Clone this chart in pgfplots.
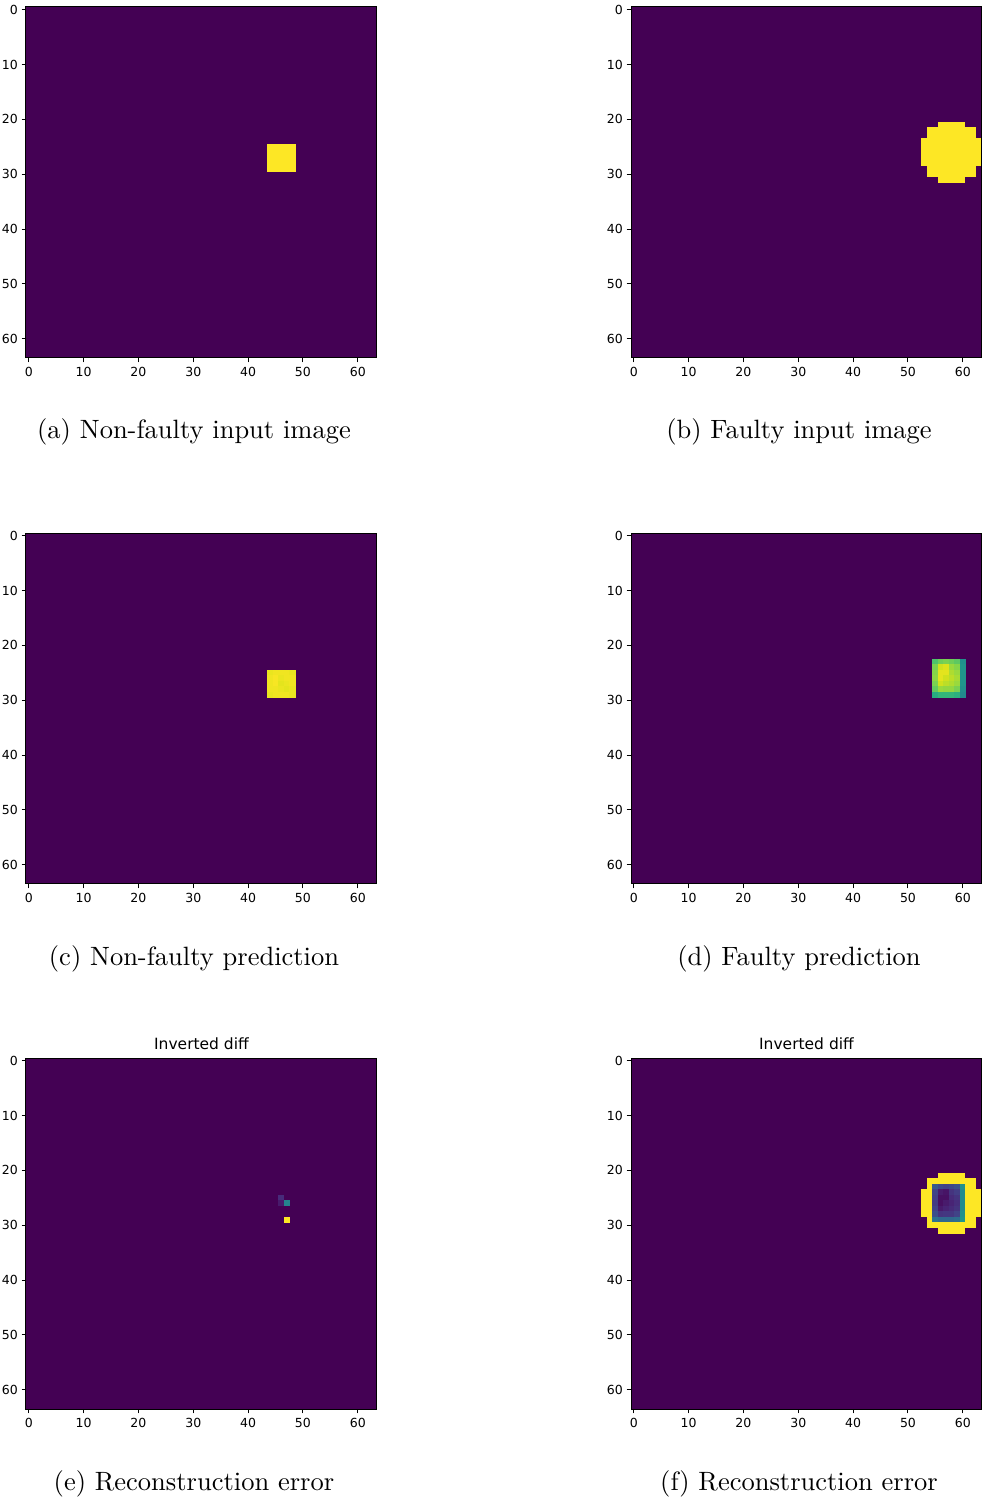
\documentclass[border=0pt]{standalone}
\usepackage{fontspec}
\usepackage{pgfplots}
\pgfplotsset{compat=1.18}
\newfontfamily\dejavu{DejaVu Sans}
\pgfplotsset{
  img/.style={
    scale only axis, width=140.4pt, height=140.4pt,
    xmin=-0.5, xmax=63.5, ymin=-0.5, ymax=63.5, y dir=reverse,
    axis on top, colormap/viridis, point meta min=0, point meta max=1,
    xtick={0,10,...,60}, ytick={0,10,...,60},
    tick align=outside, xtick pos=bottom, ytick pos=left,
    major tick length=1.76pt,
    tick style={black, line width=0.4pt},
    axis line style={line width=0.4pt},
    tick label style={font=\dejavu\fontsize{5}{6}\selectfont},
    xticklabel style={yshift=1.6pt},
    yticklabel style={xshift=2pt},
    /pgf/number format/assume math mode=true,
    anchor=north west,
    title style={font=\dejavu\fontsize{6.2}{7}\selectfont, anchor=base, yshift=-2.6pt, inner sep=0pt},
  },
  bg/.style={matrix plot*, mesh/cols=2, point meta=explicit},
  px/.style={matrix plot, line width=0.15pt, point meta=explicit},
}
\newcommand\bgplot{\addplot[bg] coordinates {(15.5,15.5) [0] (47.5,15.5) [0] (15.5,47.5) [0] (47.5,47.5) [0]};}
\newcommand\subcap[3]{\node[anchor=base, font=\fontsize{10.6}{12}\selectfont] at (#1,#2) {#3};}
\begin{document}
\begin{tikzpicture}
% (a)
\begin{axis}[img, at={(10.4pt,-2.8pt)}]
\bgplot
\addplot[px, mesh/cols=5] table[meta=c, row sep=\\] {
x y c\\
44 25 1\\ 45 25 1\\ 46 25 1\\ 47 25 1\\ 48 25 1\\
44 26 1\\ 45 26 1\\ 46 26 1\\ 47 26 1\\ 48 26 1\\
44 27 1\\ 45 27 1\\ 46 27 1\\ 47 27 1\\ 48 27 1\\
44 28 1\\ 45 28 1\\ 46 28 1\\ 47 28 1\\ 48 28 1\\
44 29 1\\ 45 29 1\\ 46 29 1\\ 47 29 1\\ 48 29 1\\
};
\end{axis}
% (b)
\begin{axis}[img, at={(252.4pt,-2.8pt)}]
\bgplot
\addplot[px, mesh/cols=11] table[meta=c, row sep=\\] {
x y c\\
53 21 0\\ 54 21 0\\ 55 21 0\\ 56 21 1\\ 57 21 1\\ 58 21 1\\ 59 21 1\\ 60 21 1\\ 61 21 0\\ 62 21 0\\ 63 21 0\\
53 22 0\\ 54 22 1\\ 55 22 1\\ 56 22 1\\ 57 22 1\\ 58 22 1\\ 59 22 1\\ 60 22 1\\ 61 22 1\\ 62 22 1\\ 63 22 0\\
53 23 0\\ 54 23 1\\ 55 23 1\\ 56 23 1\\ 57 23 1\\ 58 23 1\\ 59 23 1\\ 60 23 1\\ 61 23 1\\ 62 23 1\\ 63 23 0\\
53 24 1\\ 54 24 1\\ 55 24 1\\ 56 24 1\\ 57 24 1\\ 58 24 1\\ 59 24 1\\ 60 24 1\\ 61 24 1\\ 62 24 1\\ 63 24 1\\
53 25 1\\ 54 25 1\\ 55 25 1\\ 56 25 1\\ 57 25 1\\ 58 25 1\\ 59 25 1\\ 60 25 1\\ 61 25 1\\ 62 25 1\\ 63 25 1\\
53 26 1\\ 54 26 1\\ 55 26 1\\ 56 26 1\\ 57 26 1\\ 58 26 1\\ 59 26 1\\ 60 26 1\\ 61 26 1\\ 62 26 1\\ 63 26 1\\
53 27 1\\ 54 27 1\\ 55 27 1\\ 56 27 1\\ 57 27 1\\ 58 27 1\\ 59 27 1\\ 60 27 1\\ 61 27 1\\ 62 27 1\\ 63 27 1\\
53 28 1\\ 54 28 1\\ 55 28 1\\ 56 28 1\\ 57 28 1\\ 58 28 1\\ 59 28 1\\ 60 28 1\\ 61 28 1\\ 62 28 1\\ 63 28 1\\
53 29 0\\ 54 29 1\\ 55 29 1\\ 56 29 1\\ 57 29 1\\ 58 29 1\\ 59 29 1\\ 60 29 1\\ 61 29 1\\ 62 29 1\\ 63 29 0\\
53 30 0\\ 54 30 1\\ 55 30 1\\ 56 30 1\\ 57 30 1\\ 58 30 1\\ 59 30 1\\ 60 30 1\\ 61 30 1\\ 62 30 1\\ 63 30 0\\
53 31 0\\ 54 31 0\\ 55 31 0\\ 56 31 1\\ 57 31 1\\ 58 31 1\\ 59 31 1\\ 60 31 1\\ 61 31 0\\ 62 31 0\\ 63 31 0\\
};
\end{axis}
% (c)
\begin{axis}[img, at={(10.4pt,-213.2pt)}]
\bgplot
\addplot[px, mesh/cols=5] table[meta=c, row sep=\\] {
x y c\\
44 25 0.97\\ 45 25 0.98\\ 46 25 0.98\\ 47 25 0.98\\ 48 25 0.97\\
44 26 0.98\\ 45 26 0.99\\ 46 26 0.97\\ 47 26 0.98\\ 48 26 0.98\\
44 27 0.98\\ 45 27 0.99\\ 46 27 0.96\\ 47 27 0.97\\ 48 27 0.98\\
44 28 0.98\\ 45 28 0.98\\ 46 28 0.97\\ 47 28 0.96\\ 48 28 0.97\\
44 29 0.97\\ 45 29 0.98\\ 46 29 0.98\\ 47 29 0.98\\ 48 29 0.97\\
};
\end{axis}
% (d)
\begin{axis}[img, at={(252.4pt,-213.2pt)}]
\bgplot
\addplot[px, mesh/cols=6] table[meta=c, row sep=\\] {
x y c\\
55 23 0.72\\ 56 23 0.78\\ 57 23 0.80\\ 58 23 0.78\\ 59 23 0.75\\ 60 23 0.50\\
55 24 0.80\\ 56 24 0.93\\ 57 24 0.95\\ 58 24 0.85\\ 59 24 0.82\\ 60 24 0.52\\
55 25 0.82\\ 56 25 0.96\\ 57 25 0.96\\ 58 25 0.88\\ 59 25 0.85\\ 60 25 0.52\\
55 26 0.83\\ 56 26 0.96\\ 57 26 0.93\\ 58 26 0.90\\ 59 26 0.87\\ 60 26 0.52\\
55 27 0.80\\ 56 27 0.93\\ 57 27 0.90\\ 58 27 0.88\\ 59 27 0.85\\ 60 27 0.52\\
55 28 0.76\\ 56 28 0.85\\ 57 28 0.84\\ 58 28 0.84\\ 59 28 0.80\\ 60 28 0.50\\
55 29 0.62\\ 56 29 0.66\\ 57 29 0.66\\ 58 29 0.66\\ 59 29 0.64\\ 60 29 0.48\\
};
\end{axis}
% (e)
\begin{axis}[img, at={(10.4pt,-423.2pt)}, title={Inverted diff}]
\bgplot
\addplot[px, mesh/cols=2] table[meta=c, row sep=\\] {
x y c\\
46 25 0.12\\ 47 25 0\\
46 26 0.07\\ 47 26 0.45\\
46 27 0\\ 47 27 0\\
46 28 0\\ 47 28 0\\
46 29 0\\ 47 29 1\\
};
\end{axis}
% (f)
\begin{axis}[img, at={(252.4pt,-423.2pt)}, title={Inverted diff}]
\bgplot
\addplot[px, mesh/cols=11] table[meta=c, row sep=\\] {
x y c\\
53 21 0\\ 54 21 0\\ 55 21 0\\ 56 21 1\\ 57 21 1\\ 58 21 1\\ 59 21 1\\ 60 21 1\\ 61 21 0\\ 62 21 0\\ 63 21 0\\
53 22 0\\ 54 22 1\\ 55 22 1\\ 56 22 1\\ 57 22 1\\ 58 22 1\\ 59 22 1\\ 60 22 1\\ 61 22 1\\ 62 22 1\\ 63 22 0\\
53 23 0\\ 54 23 1\\ 55 23 0.28\\ 56 23 0.22\\ 57 23 0.20\\ 58 23 0.22\\ 59 23 0.25\\ 60 23 0.50\\ 61 23 1\\ 62 23 1\\ 63 23 0\\
53 24 1\\ 54 24 1\\ 55 24 0.20\\ 56 24 0.07\\ 57 24 0.05\\ 58 24 0.15\\ 59 24 0.18\\ 60 24 0.48\\ 61 24 1\\ 62 24 1\\ 63 24 1\\
53 25 1\\ 54 25 1\\ 55 25 0.18\\ 56 25 0.04\\ 57 25 0.04\\ 58 25 0.12\\ 59 25 0.15\\ 60 25 0.48\\ 61 25 1\\ 62 25 1\\ 63 25 1\\
53 26 1\\ 54 26 1\\ 55 26 0.17\\ 56 26 0.04\\ 57 26 0.07\\ 58 26 0.10\\ 59 26 0.13\\ 60 26 0.48\\ 61 26 1\\ 62 26 1\\ 63 26 1\\
53 27 1\\ 54 27 1\\ 55 27 0.20\\ 56 27 0.07\\ 57 27 0.10\\ 58 27 0.12\\ 59 27 0.15\\ 60 27 0.48\\ 61 27 1\\ 62 27 1\\ 63 27 1\\
53 28 1\\ 54 28 1\\ 55 28 0.24\\ 56 28 0.15\\ 57 28 0.16\\ 58 28 0.16\\ 59 28 0.20\\ 60 28 0.50\\ 61 28 1\\ 62 28 1\\ 63 28 1\\
53 29 0\\ 54 29 1\\ 55 29 0.38\\ 56 29 0.34\\ 57 29 0.34\\ 58 29 0.34\\ 59 29 0.36\\ 60 29 0.52\\ 61 29 1\\ 62 29 1\\ 63 29 0\\
53 30 0\\ 54 30 1\\ 55 30 1\\ 56 30 1\\ 57 30 1\\ 58 30 1\\ 59 30 1\\ 60 30 1\\ 61 30 1\\ 62 30 1\\ 63 30 0\\
53 31 0\\ 54 31 0\\ 55 31 0\\ 56 31 1\\ 57 31 1\\ 58 31 1\\ 59 31 1\\ 60 31 1\\ 61 31 0\\ 62 31 0\\ 63 31 0\\
};
\end{axis}
\subcap{77.6pt}{-175.6pt}{(a) Non-faulty input image}
\subcap{319.6pt}{-175.6pt}{(b) Faulty input image}
\subcap{77.6pt}{-386pt}{(c) Non-faulty prediction}
\subcap{319.6pt}{-386pt}{(d) Faulty prediction}
\subcap{77.6pt}{-596.2pt}{(e) Reconstruction error}
\subcap{319.6pt}{-596.2pt}{(f) Reconstruction error}
\pgfresetboundingbox
\useasboundingbox (0,0) rectangle (392.8pt,-598.8pt);
\end{tikzpicture}
\end{document}
